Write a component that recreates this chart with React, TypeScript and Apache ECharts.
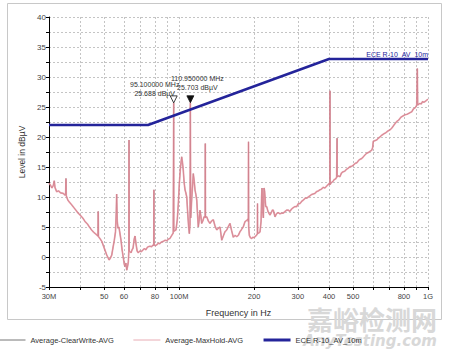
import React, { useEffect, useRef } from 'react';
import * as echarts from 'echarts';

// Measured trace (frequency in MHz, level in dBµV)
const traceFreqMHz = [
  30.0, 30.4, 30.8, 31.2, 31.5, 31.7, 32.2, 32.8, 33.4, 34.2, 34.8, 35.0, 35.1, 35.2, 35.7, 36.3, 37.0, 37.8, 38.5, 39.3,
  40.2, 41.0, 41.9, 42.8, 43.6, 44.5, 45.4, 46.3, 47.2, 47.3, 47.4, 48.2, 48.9, 49.7, 50.4, 51.2, 51.8, 52.3, 52.9, 53.6,
  54.2, 54.9, 55.5, 55.9, 56.1, 56.4, 56.8, 57.3, 57.8, 58.4, 59.0, 59.7, 60.2, 60.6, 61.1, 61.6, 62.1, 62.5, 62.8, 62.9,
  63.0, 63.5, 64.1, 64.7, 65.3, 66.0, 66.5, 67.1, 67.8, 68.5, 69.5, 70.5, 71.6, 72.5, 73.5, 74.5, 75.0, 76.4, 77.5, 78.5,
  79.1, 79.2, 79.3, 80.3, 81.2, 82.5, 83.6, 84.8, 86.4, 87.8, 89.3, 90.6, 91.9, 93.4, 94.7, 95.0, 95.1, 95.2, 96.2, 97.1,
  98.3, 99.3, 100.2, 101.3, 102.4, 103.1, 103.9, 104.7, 105.6, 106.4, 107.3, 108.2, 109.2, 109.9, 110.6, 110.95, 111.3, 112.3, 113.1, 114.0,
  115.0, 115.8, 116.8, 117.7, 118.5, 119.4, 120.4, 121.3, 122.3, 123.2, 124.5, 125.9, 127.2, 127.4, 127.6, 129.1, 131.0, 133.1, 135.0, 137.2,
  139.3, 141.6, 143.8, 146.0, 148.3, 150.5, 152.8, 155.3, 157.6, 160.1, 162.5, 165.1, 167.8, 170.4, 172.9, 175.5, 178.2, 181.1, 184.0, 186.9,
  189.0, 189.7, 190.0, 190.3, 191.5, 193.5, 195.7, 198.1, 200.0, 201.8, 204.5, 206.3, 206.5, 206.7, 208.8, 211.4, 213.5, 214.5, 215.3, 216.5,
  218.0, 219.3, 220.5, 222.8, 224.9, 227.5, 229.5, 231.8, 234.5, 237.0, 239.0, 242.8, 246.0, 250.0, 254.0, 258.3, 262.2, 266.5, 270.5, 274.6,
  278.9, 283.0, 287.0, 291.5, 296.8, 301.2, 306.0, 311.0, 316.0, 321.0, 326.0, 330.4, 335.6, 340.0, 345.5, 351.5, 356.5, 362.0, 368.1, 373.0,
  379.0, 385.6, 391.0, 396.0, 401.2, 403.5, 403.8, 404.1, 409.0, 415.0, 420.0, 425.0, 429.5, 430.8, 431.2, 431.6, 437.0, 443.0, 449.0, 456.0,
  463.0, 470.0, 478.0, 485.9, 493.0, 501.0, 510.0, 518.0, 526.0, 534.0, 541.0, 549.7, 558.0, 567.3, 575.0, 584.0, 594.2, 599.0, 603.0, 612.0,
  622.3, 631.0, 641.0, 651.8, 663.0, 676.0, 690.0, 703.8, 716.0, 730.0, 748.7, 762.0, 778.0, 793.0, 808.4, 825.0, 842.0, 860.2, 875.0, 890.0,
  900.9, 903.0, 906.0, 909.0, 918.0, 928.9, 940.0, 950.0, 962.0, 972.8, 986.0, 1000.0,
];
const traceLevel = [
  12.3, 12.0, 11.5, 11.9, 12.7, 11.6, 10.9, 11.0, 10.7, 10.6, 10.3, 10.4, 13.1, 10.2, 9.5, 9.1, 8.7, 8.2, 7.8, 7.3,
  6.9, 6.5, 5.9, 5.5, 5.0, 4.5, 4.1, 3.8, 3.5, 7.6, 3.4, 3.0, 2.6, 1.8, 1.1, 0.3, -0.1, -0.5, -0.2, 0.3,
  1.5, 2.8, 4.2, 7.5, 10.5, 6.0, 4.8, 5.0, 4.0, 2.8, 1.2, -0.2, -1.2, -1.6, -1.0, -2.2, -1.5, -0.8, 1.0, 19.5,
  1.0, 0.9, 0.7, 1.2, 1.5, 3.0, 3.5, 2.2, 1.0, 0.7, 1.0, 0.9, 1.2, 1.4, 1.2, 1.6, 1.7, 1.8, 1.7, 2.0,
  1.9, 11.2, 2.0, 1.9, 2.0, 2.3, 2.2, 2.5, 2.6, 2.8, 2.7, 3.0, 3.1, 3.6, 4.0, 4.1, 25.688, 4.3, 4.4, 4.5,
  6.2, 9.0, 12.3, 15.0, 16.7, 15.8, 14.5, 12.5, 11.2, 10.7, 10.0, 7.5, 5.0, 3.9, 5.5, 25.703, 6.5, 9.5, 11.5, 13.9,
  12.6, 11.2, 10.4, 9.5, 7.3, 5.0, 6.2, 7.8, 6.8, 5.6, 6.0, 6.7, 6.6, 18.9, 6.6, 6.7, 6.0, 5.6, 6.0, 6.2,
  5.2, 4.5, 4.8, 5.0, 2.8, 3.5, 4.2, 4.5, 5.05, 5.6, 4.4, 3.3, 3.6, 3.4, 3.6, 4.2, 4.6, 5.05, 5.9, 6.1,
  6.3, 5.9, 19.2, 5.0, 3.6, 3.2, 3.1, 3.3, 3.2, 3.4, 3.6, 3.9, 8.9, 3.9, 4.0, 4.2, 6.0, 10.0, 11.5, 8.0,
  6.5, 11.5, 11.0, 8.4, 8.4, 7.6, 7.3, 7.0, 7.4, 7.8, 7.8, 6.7, 7.2, 7.4, 7.2, 7.3, 7.3, 7.6, 7.8, 7.8,
  7.6, 8.0, 8.2, 8.4, 8.4, 8.9, 8.9, 9.3, 9.5, 9.8, 9.8, 10.0, 10.2, 10.4, 10.5, 10.6, 10.9, 11.0, 11.2, 11.3,
  11.6, 11.5, 11.8, 12.0, 12.3, 12.0, 27.7, 12.1, 12.4, 12.6, 12.9, 13.0, 13.3, 13.4, 19.8, 13.4, 13.5, 13.4, 14.0, 14.2,
  14.3, 14.6, 14.8, 15.05, 15.1, 15.3, 15.6, 15.7, 16.1, 16.3, 16.4, 16.7, 17.0, 17.3, 17.4, 17.6, 17.8, 18.2, 19.3, 19.4,
  19.5, 19.8, 20.0, 20.3, 20.5, 20.7, 21.0, 21.2, 21.5, 22.0, 22.6, 22.8, 23.3, 23.5, 23.7, 23.8, 24.0, 24.2, 24.7, 24.9,
  25.3, 25.3, 31.4, 25.3, 25.5, 25.6, 25.5, 25.9, 25.8, 25.9, 26.1, 26.3,
];

// Limit line ECE R-10 AV 10m
const limitFreqMHz = [30, 75, 400, 1000];
const limitLevel = [22, 22, 33, 33];

// Markers
const markerFreqMHz = [95.1, 110.95];
const markerLevel = [25.688, 25.703];
const markerFilled = [false, true];

// Axes
const xTickFreqs = [30, 40, 50, 60, 70, 80, 90, 100, 200, 300, 400, 500, 600, 700, 800, 900, 1000];
const xLabelFreqs = [30, 50, 60, 80, 100, 200, 300, 400, 500, 800, 1000];
const xMinMHz = 30;
const xMaxMHz = 1000;
const yMin = -5;
const yMax = 40;
const yStep = 5;

const seriesNames = ['Average-ClearWrite-AVG', 'Average-MaxHold-AVG', 'ECE R-10_AV_10m'];
const limitLabel = 'ECE R-10_AV_10m';

const lg = (f: number) => Math.log10(f);
const FONT = '"Liberation Sans", Arial, sans-serif';

function freqLabel(v: number) {
  const f = Math.round(Math.pow(10, v));
  if (f === 1000) return '1G';
  if (f === 30 || f === 100) return f + 'M';
  return String(f);
}

export default function App() {
  const ref = useRef<HTMLDivElement>(null);
  useEffect(() => {
    if (!ref.current) return;
    const chart = echarts.init(ref.current, undefined, { renderer: 'svg' });
    const trace = traceFreqMHz.map((f, i) => [lg(f), traceLevel[i]]);
    const limit = limitFreqMHz.map((f, i) => [lg(f), limitLevel[i]]);
    const gridStyle = { color: '#c4c4c4', type: [2, 2] as any, width: 1 };
    const hiddenSymbol = { color: 'rgba(0,0,0,0)', borderWidth: 0, opacity: 0 };

    const markers = markerFreqMHz.map((f, i) => ({
      coord: [lg(f), markerLevel[i]],
      symbol: 'path://M0,0L10,0L5,10Z',
      symbolSize: [7, 7],
      symbolOffset: [0, -3.5],
      itemStyle: {
        color: markerFilled[i] ? '#111' : '#fff',
        borderColor: '#111',
        borderWidth: 0.8,
      },
      label: {
        show: true,
        position: 'top',
        distance: 0,
        offset: i === 0 ? [-19, 3] : [7, -3],
        formatter: `${f.toFixed(6)} MHz\n${markerLevel[i].toFixed(3)} dBµV`,
        color: '#333',
        fontSize: 7,
        lineHeight: 9,
        fontFamily: FONT,
      },
    }));

    chart.setOption({
      animation: false,
      backgroundColor: '#fff',
      textStyle: { fontFamily: FONT },
      grid: { left: 49, right: 21, top: 17, bottom: 71, containLabel: false },
      graphic: [
        {
          type: 'rect',
          shape: { x: 7.5, y: 3.5, width: 434, height: 316 },
          style: { fill: 'none', stroke: '#c8c8c8', lineWidth: 1 },
          z: -1,
        },
        {
          type: 'text',
          right: 12,
          top: 305,
          style: { text: '嘉峪检测网', fill: '#d8d8d8', font: 'bold 26px "Noto Sans CJK SC", sans-serif' },
          z: -1,
        },
        {
          type: 'text',
          right: 12,
          top: 333,
          style: { text: 'AnyTesting.com', fill: '#d8d8d8', font: 'italic bold 15px "DejaVu Sans", sans-serif' },
          z: -1,
        },
      ],
      legend: {
        left: -2,
        top: 336,
        padding: 0,
        itemWidth: 27,
        itemHeight: 6,
        itemGap: 19,
        textStyle: { fontSize: 7.5, color: '#333', fontFamily: FONT },
        data: [
          { name: seriesNames[0], lineStyle: { color: '#777', width: 1 }, itemStyle: hiddenSymbol },
          { name: seriesNames[1], lineStyle: { color: '#e0909c', width: 1 }, itemStyle: hiddenSymbol },
          { name: seriesNames[2], lineStyle: { color: '#24249a', width: 3 }, itemStyle: hiddenSymbol },
        ],
      },
      xAxis: {
        type: 'value',
        min: lg(xMinMHz),
        max: lg(xMaxMHz),
        name: 'Frequency in Hz',
        nameLocation: 'middle',
        nameGap: 21,
        nameTextStyle: { fontSize: 9, color: '#333', fontFamily: FONT },
        axisLine: { show: true, onZero: false, lineStyle: { color: '#000', width: 1 } },
        axisTick: { show: true, length: 3, lineStyle: { color: '#000' }, customValues: xTickFreqs.map(lg) },
        axisLabel: {
          fontSize: 7.5,
          color: '#444',
          margin: 5,
          customValues: xLabelFreqs.map(lg),
          formatter: (v: number) => freqLabel(v),
          showMinLabel: true,
          showMaxLabel: true,
        },
        splitLine: { show: true, lineStyle: gridStyle },
      },
      yAxis: {
        type: 'value',
        min: yMin,
        max: yMax,
        interval: yStep,
        name: 'Level in dBµV',
        nameLocation: 'middle',
        nameGap: 20,
        nameTextStyle: { fontSize: 8.5, color: '#333', fontFamily: FONT },
        axisLine: { show: true, lineStyle: { color: '#000', width: 1 } },
        axisTick: { show: true, length: 3, lineStyle: { color: '#000' } },
        minorTick: { show: true, splitNumber: 2, length: 3, lineStyle: { color: '#000' } },
        axisLabel: { fontSize: 8, color: '#444', margin: 3 },
        splitLine: { show: true, lineStyle: gridStyle },
        minorSplitLine: { show: true, lineStyle: gridStyle },
      },
      series: [
        {
          name: seriesNames[0],
          type: 'line',
          data: trace,
          showSymbol: false,
          symbol: 'none',
          lineStyle: { color: '#8a6a72', width: 0.7 },
          itemStyle: { color: '#777' },
          z: 2,
        },
        {
          name: seriesNames[1],
          type: 'line',
          data: trace,
          showSymbol: false,
          symbol: 'none',
          lineStyle: { color: '#e48593', width: 1.7, opacity: 0.75 },
          itemStyle: { color: '#e0909c' },
          z: 3,
          markPoint: { data: markers, z: 5 },
        },
        {
          name: seriesNames[2],
          type: 'line',
          data: limit,
          showSymbol: false,
          symbol: 'none',
          lineStyle: { color: '#24249a', width: 2.5 },
          itemStyle: { color: '#24249a' },
          z: 4,
          markPoint: {
            data: [
              {
                coord: [lg(xMaxMHz), limitLevel[limitLevel.length - 1]],
                symbol: 'rect',
                symbolSize: 1,
                itemStyle: { color: 'rgba(0,0,0,0)' },
                label: {
                  show: true,
                  position: 'top',
                  align: 'right',
                  distance: 1,
                  formatter: limitLabel,
                  color: '#24249a',
                  fontSize: 7,
                  fontFamily: FONT,
                },
              },
            ],
          },
        },
      ],
    });
    return () => chart.dispose();
  }, []);
  return <div ref={ref} style={{ position: 'fixed', left: 0, top: 0, width: 449, height: 358 }} />;
}
